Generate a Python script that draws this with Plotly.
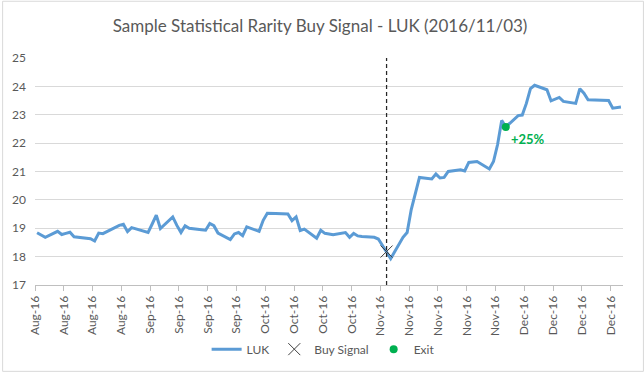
import pandas as pd
import plotly.graph_objects as go

# ---------------- data ----------------
start_date = "2016-08-10"
end_date = "2016-12-30"
holidays = ["2016-09-05", "2016-11-24", "2016-12-26"]

aug_close = [18.84, 18.76, 18.68, 18.89, 18.78, 18.82, 18.86, 18.70, 18.66, 18.63,
             18.55, 18.83, 18.81, 19.05, 19.10, 19.14]
sep_close = [18.88, 19.02, 18.85, 19.15, 19.46, 18.99, 19.40, 19.10, 18.85, 19.09,
             19.00, 18.95, 18.93, 19.17, 19.09, 18.83, 18.60, 18.80, 18.85, 18.74, 19.05]
oct_close = [18.89, 19.28, 19.53, 19.53, 19.52, 19.50, 19.27, 19.40, 18.92, 18.97,
             18.65, 18.93, 18.82, 18.80, 18.77, 18.85, 18.68, 18.82, 18.73, 18.71, 18.68]
nov_close = [18.62, 18.40, 18.18, 17.93, 18.68, 18.85, 19.66, 20.19, 20.79, 20.74,
             20.91, 20.77, 20.79, 21.00, 21.06, 21.02, 21.32, 21.35, 21.09, 21.35, 21.95]
dec_close = [22.80, 22.57, 22.97, 22.99, 23.40, 23.92, 24.04, 23.88, 23.49, 23.55,
             23.61, 23.47, 23.40, 23.92, 23.76, 23.53, 23.52, 23.50, 23.23, 23.25, 23.27]

buy_date = "2016-11-03"
exit_date = "2016-12-02"
exit_label = "+25%"
title_text = "Sample Statistical Rarity Buy Signal - LUK (2016/11/03)"
y_ticks = [17, 18, 19, 20, 21, 22, 23, 24, 25]

# ---------------- build ----------------
dates = [d for d in pd.bdate_range(start_date, end_date) if d.strftime("%Y-%m-%d") not in holidays]
luk = aug_close + sep_close + oct_close + nov_close + dec_close
series = pd.Series(luk, index=pd.DatetimeIndex(dates))
buy_value = float(series[buy_date])
exit_value = float(series[exit_date])

BLUE = "#5B9BD5"
GREEN = "#00B050"
GRAY_TXT = "#595959"
GRID = "#D9D9D9"
FONT = "Lato"

fig = go.Figure()
fig.add_trace(go.Scatter(
    x=series.index, y=series.values, mode="lines", name="LUK",
    line=dict(color=BLUE, width=3), hoverinfo="skip"))
fig.add_trace(go.Scatter(
    x=[buy_date], y=[buy_value], mode="markers", name="Buy Signal",
    marker=dict(symbol="x-thin-open", size=12, color="#404040",
                line=dict(color="#404040", width=1)), hoverinfo="skip"))
fig.add_trace(go.Scatter(
    x=[exit_date], y=[exit_value], mode="markers", name="Exit",
    marker=dict(symbol="circle", size=8, color=GREEN), hoverinfo="skip"))

# dashed vertical line at the buy signal
fig.add_shape(type="line", xref="x", yref="y", x0=buy_date, x1=buy_date,
              y0=y_ticks[0], y1=y_ticks[-1],
              line=dict(color="#262626", width=1.25, dash="4px,3px"), layer="above")

fig.add_annotation(x=exit_date, y=exit_value, text="<b>%s</b>" % exit_label,
                   showarrow=False, xanchor="left", yanchor="top",
                   xshift=3, yshift=-2, font=dict(family=FONT, size=13, color=GREEN))

W, H = 644, 376
ml, mr, mt, mb = 33, 21, 58, 88
pw, ph = W - ml - mr, H - mt - mb
# chart-area border
fig.add_shape(type="rect", xref="paper", yref="paper",
              x0=(-ml + 0.5) / pw, x1=1 + (mr - 0.5) / pw,
              y0=(-mb + 0.5) / ph, y1=1 + (mt - 0.5) / ph,
              line=dict(color=GRID, width=1), layer="below")

fig.update_layout(
    width=W, height=H,
    margin=dict(l=ml, r=mr, t=mt, b=mb),
    paper_bgcolor="white", plot_bgcolor="white",
    font=dict(family=FONT, size=12, color=GRAY_TXT),
    title=dict(text=title_text, x=0.497, xref="container", xanchor="center",
               y=1 - 26 / H, yanchor="middle",
               font=dict(family=FONT, size=17, color=GRAY_TXT)),
    showlegend=True,
    legend=dict(orientation="h", x=0.49, xanchor="center", y=(ph - (353 - mt)) / ph,
                yanchor="middle", font=dict(family=FONT, size=12, color=GRAY_TXT),
                bgcolor="rgba(0,0,0,0)", itemwidth=30),
)
fig.update_xaxes(
    type="date",
    range=["2016-08-09 12:00", "2016-12-30 12:00"],
    tick0="2016-08-09 12:00", dtick=7 * 24 * 3600 * 1000,
    tickformat="%b-%y", tickangle=-90,
    ticks="outside", ticklen=5, tickcolor="#BFBFBF",
    showline=True, linecolor="#BFBFBF", linewidth=1,
    showgrid=False, zeroline=False,
    tickfont=dict(family=FONT, size=12, color=GRAY_TXT),
)
fig.update_yaxes(
    range=[y_ticks[0], y_ticks[-1]], tickvals=y_ticks,
    showgrid=True, gridcolor=GRID, gridwidth=1,
    zeroline=False, showline=False, ticks="",
    ticklabelstandoff=8,
    tickfont=dict(family=FONT, size=12, color=GRAY_TXT),
)

fig.write_html("out.html", config={"displayModeBar": False},
               post_script="document.body.style.margin='0';")
